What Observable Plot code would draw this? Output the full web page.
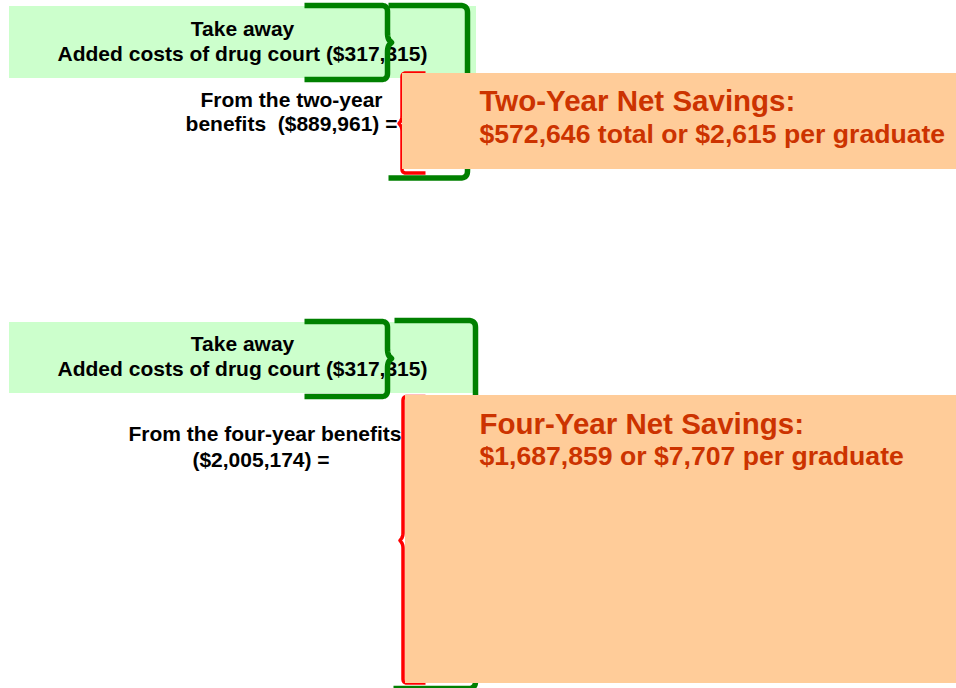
<!DOCTYPE html>
<html><head><meta charset="utf-8">
<script src="https://cdn.jsdelivr.net/npm/d3@7"></script>
<script src="https://cdn.jsdelivr.net/npm/@observablehq/plot@0.6"></script>
<style>html,body{margin:0;padding:0;background:#fff;} svg text{white-space:pre;}</style>
</head><body><div id="chart"></div><script>
// ---- data ----
const panels = ["Two-Year", "Four-Year"];
const addedCost = 317315;
const benefits = [889961, 2005174];
const netSavings = [572646, 1687859];
const perGraduate = [2615, 7707];
const takeAwayLabel = "Take away";
const costLabel = "Added costs of drug court";

const money = d3.format("$,");
const takeAwayLines = [takeAwayLabel, `${costLabel} (${money(addedCost)})`];
const benefitLines = [
  ["From the two-year", `benefits  (${money(benefits[0])}) =`],
  ["From the four-year benefits", `(${money(benefits[1])}) =`]
];
const savingsLines = [
  [`${panels[0]} Net Savings:`, `${money(netSavings[0])} total or ${money(perGraduate[0])} per graduate`],
  [`${panels[1]} Net Savings:`, `${money(netSavings[1])} or ${money(perGraduate[1])} per graduate`]
];

// ---- layout (pixel units of the diagram) ----
const layout = [
  {green: [9, 476, 6, 78], takeX: 242, takeY: [35, 60],
   brace: {x0: 304, xr: 387, top: 5, bottom: 79, mid: 42},
   bracket: {xL: 388, xLb: 388, xv: 467, top: 5, bottom: 177.5},
   red: {xv: 401.5, x1: 425, top: 72.5, bottom: 172.5, mid: 123},
   peach: [402, 956, 73, 169],
   benX: [291, 291], benY: [106.7, 130.7],
   savX: 479, savY: [110.7, 142.7]},
  {green: [9, 478, 322, 393], takeX: 242, takeY: [350.7, 375],
   brace: {x0: 304, xr: 387, top: 321, bottom: 396, mid: 358},
   bracket: {xL: 394, xLb: 393, xv: 475, top: 320, bottom: 688},
   red: {xv: 402.5, x1: 425, top: 396, bottom: 682.5, mid: 540},
   peach: [405, 956, 395, 683],
   benX: [264.5, 260.5], benY: [440, 466],
   savX: 479, savY: [433.3, 464]}
];

function rounded(verts, r, id) {
  const out = [{x: verts[0][0], y: verts[0][1], id}];
  for (let i = 1; i < verts.length - 1; i++) {
    const [px, py] = verts[i - 1], [cx, cy, cr] = verts[i], [nx, ny] = verts[i + 1];
    const rr = cr ?? r;
    if (!rr) { out.push({x: cx, y: cy, id}); continue; }
    const d1 = Math.hypot(px - cx, py - cy), d2 = Math.hypot(nx - cx, ny - cy);
    const k1 = Math.min(rr, d1 / 2) / d1, k2 = Math.min(rr, d2 / 2) / d2;
    const a = [cx + (px - cx) * k1, cy + (py - cy) * k1];
    const b = [cx + (nx - cx) * k2, cy + (ny - cy) * k2];
    for (let t = 0; t <= 1.0001; t += 1 / 8) {
      const u = 1 - t;
      out.push({x: u * u * a[0] + 2 * u * t * cx + t * t * b[0], y: u * u * a[1] + 2 * u * t * cy + t * t * b[1], id});
    }
  }
  const l = verts[verts.length - 1];
  out.push({x: l[0], y: l[1], id});
  return out;
}

const greenPaths = [], redPaths = [];
layout.forEach((L, i) => {
  const B = L.brace;
  greenPaths.push(...rounded([
    [B.x0, B.top], [B.xr, B.top], [B.xr, B.mid - 4], [B.xr + 4, B.mid, 0], [B.xr, B.mid + 4],
    [B.xr, B.bottom], [B.x0, B.bottom]
  ], 6, "b" + i));
  const K = L.bracket;
  greenPaths.push(...rounded([
    [K.xL, K.top], [K.xv, K.top], [K.xv, K.bottom], [K.xLb, K.bottom]
  ], 7, "k" + i));
  const R = L.red;
  redPaths.push(...rounded([
    [R.x1, R.top], [R.xv, R.top], [R.xv, R.mid - 4], [R.xv - 3, R.mid, 0], [R.xv, R.mid + 4],
    [R.xv, R.bottom], [R.x1, R.bottom]
  ], 4, "r" + i));
});

const greenRects = layout.map(L => ({x1: L.green[0], x2: L.green[1], y1: L.green[2], y2: L.green[3]}));
const peachRects = layout.map(L => ({x1: L.peach[0], x2: L.peach[1], y1: L.peach[2], y2: L.peach[3]}));
const takeTexts = layout.flatMap(L => takeAwayLines.map((t, j) => ({x: L.takeX, y: L.takeY[j], text: t})));
const benTexts = layout.flatMap((L, i) => benefitLines[i].map((t, j) => ({x: L.benX[j], y: L.benY[j], text: t})));
const savTitle = layout.map((L, i) => ({x: L.savX, y: L.savY[0], text: savingsLines[i][0]}));
const savLine = layout.map((L, i) => ({x: L.savX, y: L.savY[1], text: savingsLines[i][1]}));

const font = "'Liberation Sans', Arial, Helvetica, sans-serif";
const chart = Plot.plot({
  width: 956, height: 688, margin: 0,
  x: {domain: [0, 956], range: [0, 956], axis: null},
  y: {domain: [0, 688], range: [0, 688], axis: null},
  style: {background: "#fff", overflow: "visible"},
  marks: [
    Plot.rect(greenRects, {x1: "x1", x2: "x2", y1: "y1", y2: "y2", fill: "#CCFFCC"}),
    Plot.text(takeTexts, {x: "x", y: "y", text: "text", textAnchor: "middle", lineAnchor: "bottom",
      fontFamily: font, fontWeight: "bold", fontSize: 21, fill: "#000"}),
    Plot.line(greenPaths, {x: "x", y: "y", z: "id", stroke: "#008000", strokeWidth: 5.5,
      strokeLinejoin: "round", strokeLinecap: "butt", curve: "linear"}),
    Plot.line(redPaths, {x: "x", y: "y", z: "id", stroke: "#FF0000", strokeWidth: 3.5,
      strokeLinejoin: "round", strokeLinecap: "butt", curve: "linear"}),
    Plot.rect(peachRects, {x1: "x1", x2: "x2", y1: "y1", y2: "y2", fill: "#FFCC99"}),
    Plot.text(benTexts, {x: "x", y: "y", text: "text", textAnchor: "middle", lineAnchor: "bottom",
      fontFamily: font, fontWeight: "bold", fontSize: 21, fill: "#000"}),
    Plot.text(savTitle, {x: "x", y: "y", text: "text", textAnchor: "start", lineAnchor: "bottom",
      fontFamily: font, fontWeight: "bold", fontSize: 29.5, fill: "#CC3300"}),
    Plot.text(savLine, {x: "x", y: "y", text: "text", textAnchor: "start", lineAnchor: "bottom",
      fontFamily: font, fontWeight: "bold", fontSize: 26.6, fill: "#CC3300"})
  ]
});
document.getElementById("chart").appendChild(chart);
</script></body></html>
